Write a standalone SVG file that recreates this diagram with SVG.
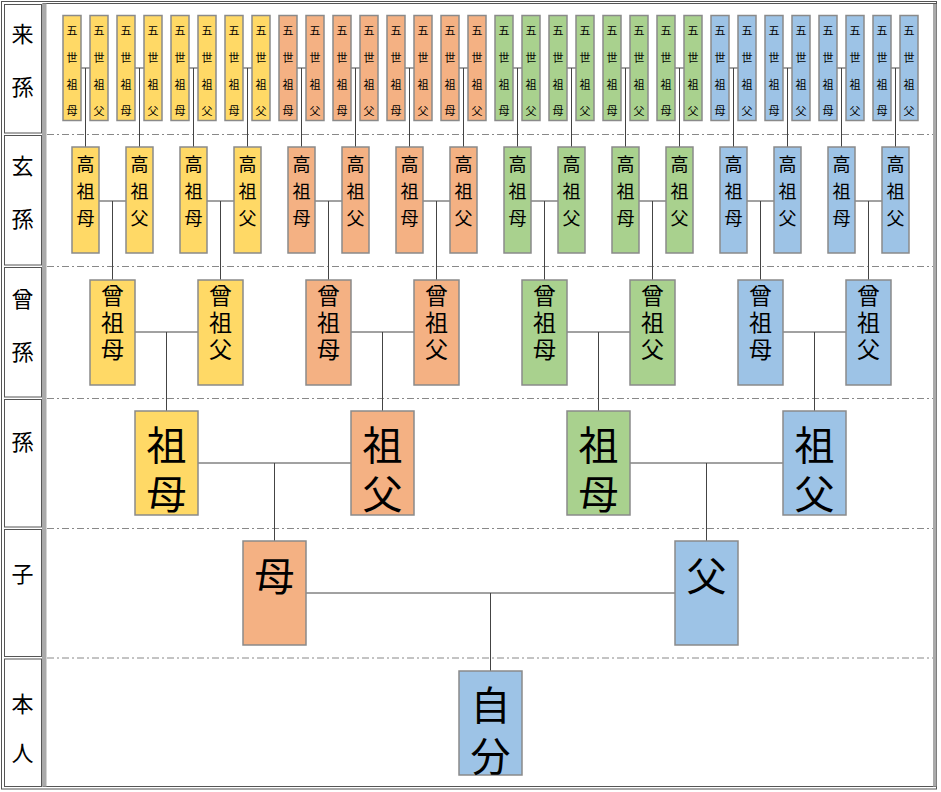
<svg xmlns="http://www.w3.org/2000/svg" width="941" height="792" viewBox="0 0 941 792">
<style>
text{font-family:"Noto Sans CJK JP","Noto Sans CJK SC",sans-serif;text-anchor:middle;dominant-baseline:central;fill:#000}
.n rect{stroke:#8a8a8a;stroke-width:1.5}
.y rect{fill:#FFD966}.o rect{fill:#F4B183}.g rect{fill:#A9D18E}.b rect{fill:#9DC3E6}
.t1{font-size:11px}.t2{font-size:18px}.t3{font-size:23px}.t4{font-size:40px}.lab{font-size:22px}
.cell{fill:#fff;stroke:#555;stroke-width:1}
.dash{stroke:#888;stroke-width:1;stroke-dasharray:7 3 2 3}
.conn{fill:none;stroke:#444;stroke-width:1}
</style>
<rect x="0" y="0" width="941" height="792" fill="#fff"/>
<g id="frame">
<rect x="1.5" y="1.5" width="935" height="787.5" fill="none" stroke="#555"/>
<rect x="43" y="3.5" width="893" height="783" fill="#fff" stroke="#555"/>
<rect x="43" y="3.5" width="3.5" height="783" fill="#aaa"/>
<rect x="933" y="4" width="3.5" height="782.5" fill="#aaa"/>
<rect class="cell" x="4.5" y="4.5" width="37" height="128.5"/>
<rect class="cell" x="4.5" y="135.5" width="37" height="129.5"/>
<rect class="cell" x="4.5" y="267.5" width="37" height="129.5"/>
<rect class="cell" x="4.5" y="399.5" width="37" height="127.5"/>
<rect class="cell" x="4.5" y="529.5" width="37" height="127"/>
<rect class="cell" x="4.5" y="659" width="37" height="127.5"/>
<line class="dash" x1="47" y1="134.5" x2="933" y2="134.5"/>
<line class="dash" x1="47" y1="266.5" x2="933" y2="266.5"/>
<line class="dash" x1="47" y1="398.5" x2="933" y2="398.5"/>
<line class="dash" x1="47" y1="528.5" x2="933" y2="528.5"/>
<line class="dash" x1="47" y1="658" x2="933" y2="658"/>
</g>
<g id="labels">
<text class="lab"><tspan x="22.5" y="32">来</tspan><tspan x="22.5" y="85">孫</tspan></text>
<text class="lab"><tspan x="22.5" y="164">玄</tspan><tspan x="22.5" y="217">孫</tspan></text>
<text class="lab"><tspan x="22.5" y="297">曾</tspan><tspan x="22.5" y="350">孫</tspan></text>
<text class="lab" x="22.5" y="440">孫</text>
<text class="lab" x="22.5" y="572">子</text>
<text class="lab"><tspan x="22.5" y="702">本</tspan><tspan x="22.5" y="751">人</tspan></text>
</g>
<g id="connectors" class="conn">
<path d="M81 68H90M85.5 68V147M135 68H144M139.5 68V147M189 68H198M193.5 68V147M243 68H252M247.5 68V147M297 68H306M301.5 68V147M351 68H360M355.5 68V147M405 68H414M409.5 68V147M459 68H468M463.5 68V147M513 68H522M517.5 68V147M567 68H576M571.5 68V147M621 68H630M625.5 68V147M675 68H684M679.5 68V147M729 68H738M733.5 68V147M783 68H792M787.5 68V147M837 68H846M841.5 68V147M891 68H900M895.5 68V147"/>
<path d="M99 201H126M112.5 201V280M207 201H234M220.5 201V280M315 201H342M328.5 201V280M423 201H450M436.5 201V280M531 201H558M544.5 201V280M639 201H666M652.5 201V280M747 201H774M760.5 201V280M855 201H882M868.5 201V280"/>
<path d="M135 332H198M166.5 332V411M351 332H414M382.5 332V411M567 332H630M598.5 332V411M783 332H846M814.5 332V411"/>
<path d="M198 463H351M274.5 463V541M630 463H783M706.5 463V541"/>
<path d="M306 593H675M490.5 593V671"/>
</g>
<g id="r1">
<g id="r1n0" class="n y"><rect x="63" y="15.5" width="18" height="105"/><text class="t1"><tspan x="72" y="30">五</tspan><tspan x="72" y="57">世</tspan><tspan x="72" y="83.5">祖</tspan><tspan x="72" y="110">母</tspan></text></g>
<g id="r1n1" class="n y"><rect x="90" y="15.5" width="18" height="105"/><text class="t1"><tspan x="99" y="30">五</tspan><tspan x="99" y="57">世</tspan><tspan x="99" y="83.5">祖</tspan><tspan x="99" y="110">父</tspan></text></g>
<g id="r1n2" class="n y"><rect x="117" y="15.5" width="18" height="105"/><text class="t1"><tspan x="126" y="30">五</tspan><tspan x="126" y="57">世</tspan><tspan x="126" y="83.5">祖</tspan><tspan x="126" y="110">母</tspan></text></g>
<g id="r1n3" class="n y"><rect x="144" y="15.5" width="18" height="105"/><text class="t1"><tspan x="153" y="30">五</tspan><tspan x="153" y="57">世</tspan><tspan x="153" y="83.5">祖</tspan><tspan x="153" y="110">父</tspan></text></g>
<g id="r1n4" class="n y"><rect x="171" y="15.5" width="18" height="105"/><text class="t1"><tspan x="180" y="30">五</tspan><tspan x="180" y="57">世</tspan><tspan x="180" y="83.5">祖</tspan><tspan x="180" y="110">母</tspan></text></g>
<g id="r1n5" class="n y"><rect x="198" y="15.5" width="18" height="105"/><text class="t1"><tspan x="207" y="30">五</tspan><tspan x="207" y="57">世</tspan><tspan x="207" y="83.5">祖</tspan><tspan x="207" y="110">父</tspan></text></g>
<g id="r1n6" class="n y"><rect x="225" y="15.5" width="18" height="105"/><text class="t1"><tspan x="234" y="30">五</tspan><tspan x="234" y="57">世</tspan><tspan x="234" y="83.5">祖</tspan><tspan x="234" y="110">母</tspan></text></g>
<g id="r1n7" class="n y"><rect x="252" y="15.5" width="18" height="105"/><text class="t1"><tspan x="261" y="30">五</tspan><tspan x="261" y="57">世</tspan><tspan x="261" y="83.5">祖</tspan><tspan x="261" y="110">父</tspan></text></g>
<g id="r1n8" class="n o"><rect x="279" y="15.5" width="18" height="105"/><text class="t1"><tspan x="288" y="30">五</tspan><tspan x="288" y="57">世</tspan><tspan x="288" y="83.5">祖</tspan><tspan x="288" y="110">母</tspan></text></g>
<g id="r1n9" class="n o"><rect x="306" y="15.5" width="18" height="105"/><text class="t1"><tspan x="315" y="30">五</tspan><tspan x="315" y="57">世</tspan><tspan x="315" y="83.5">祖</tspan><tspan x="315" y="110">父</tspan></text></g>
<g id="r1n10" class="n o"><rect x="333" y="15.5" width="18" height="105"/><text class="t1"><tspan x="342" y="30">五</tspan><tspan x="342" y="57">世</tspan><tspan x="342" y="83.5">祖</tspan><tspan x="342" y="110">母</tspan></text></g>
<g id="r1n11" class="n o"><rect x="360" y="15.5" width="18" height="105"/><text class="t1"><tspan x="369" y="30">五</tspan><tspan x="369" y="57">世</tspan><tspan x="369" y="83.5">祖</tspan><tspan x="369" y="110">父</tspan></text></g>
<g id="r1n12" class="n o"><rect x="387" y="15.5" width="18" height="105"/><text class="t1"><tspan x="396" y="30">五</tspan><tspan x="396" y="57">世</tspan><tspan x="396" y="83.5">祖</tspan><tspan x="396" y="110">母</tspan></text></g>
<g id="r1n13" class="n o"><rect x="414" y="15.5" width="18" height="105"/><text class="t1"><tspan x="423" y="30">五</tspan><tspan x="423" y="57">世</tspan><tspan x="423" y="83.5">祖</tspan><tspan x="423" y="110">父</tspan></text></g>
<g id="r1n14" class="n o"><rect x="441" y="15.5" width="18" height="105"/><text class="t1"><tspan x="450" y="30">五</tspan><tspan x="450" y="57">世</tspan><tspan x="450" y="83.5">祖</tspan><tspan x="450" y="110">母</tspan></text></g>
<g id="r1n15" class="n o"><rect x="468" y="15.5" width="18" height="105"/><text class="t1"><tspan x="477" y="30">五</tspan><tspan x="477" y="57">世</tspan><tspan x="477" y="83.5">祖</tspan><tspan x="477" y="110">父</tspan></text></g>
<g id="r1n16" class="n g"><rect x="495" y="15.5" width="18" height="105"/><text class="t1"><tspan x="504" y="30">五</tspan><tspan x="504" y="57">世</tspan><tspan x="504" y="83.5">祖</tspan><tspan x="504" y="110">母</tspan></text></g>
<g id="r1n17" class="n g"><rect x="522" y="15.5" width="18" height="105"/><text class="t1"><tspan x="531" y="30">五</tspan><tspan x="531" y="57">世</tspan><tspan x="531" y="83.5">祖</tspan><tspan x="531" y="110">父</tspan></text></g>
<g id="r1n18" class="n g"><rect x="549" y="15.5" width="18" height="105"/><text class="t1"><tspan x="558" y="30">五</tspan><tspan x="558" y="57">世</tspan><tspan x="558" y="83.5">祖</tspan><tspan x="558" y="110">母</tspan></text></g>
<g id="r1n19" class="n g"><rect x="576" y="15.5" width="18" height="105"/><text class="t1"><tspan x="585" y="30">五</tspan><tspan x="585" y="57">世</tspan><tspan x="585" y="83.5">祖</tspan><tspan x="585" y="110">父</tspan></text></g>
<g id="r1n20" class="n g"><rect x="603" y="15.5" width="18" height="105"/><text class="t1"><tspan x="612" y="30">五</tspan><tspan x="612" y="57">世</tspan><tspan x="612" y="83.5">祖</tspan><tspan x="612" y="110">母</tspan></text></g>
<g id="r1n21" class="n g"><rect x="630" y="15.5" width="18" height="105"/><text class="t1"><tspan x="639" y="30">五</tspan><tspan x="639" y="57">世</tspan><tspan x="639" y="83.5">祖</tspan><tspan x="639" y="110">父</tspan></text></g>
<g id="r1n22" class="n g"><rect x="657" y="15.5" width="18" height="105"/><text class="t1"><tspan x="666" y="30">五</tspan><tspan x="666" y="57">世</tspan><tspan x="666" y="83.5">祖</tspan><tspan x="666" y="110">母</tspan></text></g>
<g id="r1n23" class="n g"><rect x="684" y="15.5" width="18" height="105"/><text class="t1"><tspan x="693" y="30">五</tspan><tspan x="693" y="57">世</tspan><tspan x="693" y="83.5">祖</tspan><tspan x="693" y="110">父</tspan></text></g>
<g id="r1n24" class="n b"><rect x="711" y="15.5" width="18" height="105"/><text class="t1"><tspan x="720" y="30">五</tspan><tspan x="720" y="57">世</tspan><tspan x="720" y="83.5">祖</tspan><tspan x="720" y="110">母</tspan></text></g>
<g id="r1n25" class="n b"><rect x="738" y="15.5" width="18" height="105"/><text class="t1"><tspan x="747" y="30">五</tspan><tspan x="747" y="57">世</tspan><tspan x="747" y="83.5">祖</tspan><tspan x="747" y="110">父</tspan></text></g>
<g id="r1n26" class="n b"><rect x="765" y="15.5" width="18" height="105"/><text class="t1"><tspan x="774" y="30">五</tspan><tspan x="774" y="57">世</tspan><tspan x="774" y="83.5">祖</tspan><tspan x="774" y="110">母</tspan></text></g>
<g id="r1n27" class="n b"><rect x="792" y="15.5" width="18" height="105"/><text class="t1"><tspan x="801" y="30">五</tspan><tspan x="801" y="57">世</tspan><tspan x="801" y="83.5">祖</tspan><tspan x="801" y="110">父</tspan></text></g>
<g id="r1n28" class="n b"><rect x="819" y="15.5" width="18" height="105"/><text class="t1"><tspan x="828" y="30">五</tspan><tspan x="828" y="57">世</tspan><tspan x="828" y="83.5">祖</tspan><tspan x="828" y="110">母</tspan></text></g>
<g id="r1n29" class="n b"><rect x="846" y="15.5" width="18" height="105"/><text class="t1"><tspan x="855" y="30">五</tspan><tspan x="855" y="57">世</tspan><tspan x="855" y="83.5">祖</tspan><tspan x="855" y="110">父</tspan></text></g>
<g id="r1n30" class="n b"><rect x="873" y="15.5" width="18" height="105"/><text class="t1"><tspan x="882" y="30">五</tspan><tspan x="882" y="57">世</tspan><tspan x="882" y="83.5">祖</tspan><tspan x="882" y="110">母</tspan></text></g>
<g id="r1n31" class="n b"><rect x="900" y="15.5" width="18" height="105"/><text class="t1"><tspan x="909" y="30">五</tspan><tspan x="909" y="57">世</tspan><tspan x="909" y="83.5">祖</tspan><tspan x="909" y="110">父</tspan></text></g>
</g>
<g id="r2">
<g id="r2n0" class="n y"><rect x="72" y="147" width="27" height="106"/><text class="t2"><tspan x="85.5" y="163">高</tspan><tspan x="85.5" y="190">祖</tspan><tspan x="85.5" y="217">母</tspan></text></g>
<g id="r2n1" class="n y"><rect x="126" y="147" width="27" height="106"/><text class="t2"><tspan x="139.5" y="163">高</tspan><tspan x="139.5" y="190">祖</tspan><tspan x="139.5" y="217">父</tspan></text></g>
<g id="r2n2" class="n y"><rect x="180" y="147" width="27" height="106"/><text class="t2"><tspan x="193.5" y="163">高</tspan><tspan x="193.5" y="190">祖</tspan><tspan x="193.5" y="217">母</tspan></text></g>
<g id="r2n3" class="n y"><rect x="234" y="147" width="27" height="106"/><text class="t2"><tspan x="247.5" y="163">高</tspan><tspan x="247.5" y="190">祖</tspan><tspan x="247.5" y="217">父</tspan></text></g>
<g id="r2n4" class="n o"><rect x="288" y="147" width="27" height="106"/><text class="t2"><tspan x="301.5" y="163">高</tspan><tspan x="301.5" y="190">祖</tspan><tspan x="301.5" y="217">母</tspan></text></g>
<g id="r2n5" class="n o"><rect x="342" y="147" width="27" height="106"/><text class="t2"><tspan x="355.5" y="163">高</tspan><tspan x="355.5" y="190">祖</tspan><tspan x="355.5" y="217">父</tspan></text></g>
<g id="r2n6" class="n o"><rect x="396" y="147" width="27" height="106"/><text class="t2"><tspan x="409.5" y="163">高</tspan><tspan x="409.5" y="190">祖</tspan><tspan x="409.5" y="217">母</tspan></text></g>
<g id="r2n7" class="n o"><rect x="450" y="147" width="27" height="106"/><text class="t2"><tspan x="463.5" y="163">高</tspan><tspan x="463.5" y="190">祖</tspan><tspan x="463.5" y="217">父</tspan></text></g>
<g id="r2n8" class="n g"><rect x="504" y="147" width="27" height="106"/><text class="t2"><tspan x="517.5" y="163">高</tspan><tspan x="517.5" y="190">祖</tspan><tspan x="517.5" y="217">母</tspan></text></g>
<g id="r2n9" class="n g"><rect x="558" y="147" width="27" height="106"/><text class="t2"><tspan x="571.5" y="163">高</tspan><tspan x="571.5" y="190">祖</tspan><tspan x="571.5" y="217">父</tspan></text></g>
<g id="r2n10" class="n g"><rect x="612" y="147" width="27" height="106"/><text class="t2"><tspan x="625.5" y="163">高</tspan><tspan x="625.5" y="190">祖</tspan><tspan x="625.5" y="217">母</tspan></text></g>
<g id="r2n11" class="n g"><rect x="666" y="147" width="27" height="106"/><text class="t2"><tspan x="679.5" y="163">高</tspan><tspan x="679.5" y="190">祖</tspan><tspan x="679.5" y="217">父</tspan></text></g>
<g id="r2n12" class="n b"><rect x="720" y="147" width="27" height="106"/><text class="t2"><tspan x="733.5" y="163">高</tspan><tspan x="733.5" y="190">祖</tspan><tspan x="733.5" y="217">母</tspan></text></g>
<g id="r2n13" class="n b"><rect x="774" y="147" width="27" height="106"/><text class="t2"><tspan x="787.5" y="163">高</tspan><tspan x="787.5" y="190">祖</tspan><tspan x="787.5" y="217">父</tspan></text></g>
<g id="r2n14" class="n b"><rect x="828" y="147" width="27" height="106"/><text class="t2"><tspan x="841.5" y="163">高</tspan><tspan x="841.5" y="190">祖</tspan><tspan x="841.5" y="217">母</tspan></text></g>
<g id="r2n15" class="n b"><rect x="882" y="147" width="27" height="106"/><text class="t2"><tspan x="895.5" y="163">高</tspan><tspan x="895.5" y="190">祖</tspan><tspan x="895.5" y="217">父</tspan></text></g>
</g>
<g id="r3">
<g id="r3n0" class="n y"><rect x="90" y="280" width="45" height="105"/><text class="t3"><tspan x="112.5" y="294">曾</tspan><tspan x="112.5" y="321">祖</tspan><tspan x="112.5" y="348">母</tspan></text></g>
<g id="r3n1" class="n y"><rect x="198" y="280" width="45" height="105"/><text class="t3"><tspan x="220.5" y="294">曾</tspan><tspan x="220.5" y="321">祖</tspan><tspan x="220.5" y="348">父</tspan></text></g>
<g id="r3n2" class="n o"><rect x="306" y="280" width="45" height="105"/><text class="t3"><tspan x="328.5" y="294">曾</tspan><tspan x="328.5" y="321">祖</tspan><tspan x="328.5" y="348">母</tspan></text></g>
<g id="r3n3" class="n o"><rect x="414" y="280" width="45" height="105"/><text class="t3"><tspan x="436.5" y="294">曾</tspan><tspan x="436.5" y="321">祖</tspan><tspan x="436.5" y="348">父</tspan></text></g>
<g id="r3n4" class="n g"><rect x="522" y="280" width="45" height="105"/><text class="t3"><tspan x="544.5" y="294">曾</tspan><tspan x="544.5" y="321">祖</tspan><tspan x="544.5" y="348">母</tspan></text></g>
<g id="r3n5" class="n g"><rect x="630" y="280" width="45" height="105"/><text class="t3"><tspan x="652.5" y="294">曾</tspan><tspan x="652.5" y="321">祖</tspan><tspan x="652.5" y="348">父</tspan></text></g>
<g id="r3n6" class="n b"><rect x="738" y="280" width="45" height="105"/><text class="t3"><tspan x="760.5" y="294">曾</tspan><tspan x="760.5" y="321">祖</tspan><tspan x="760.5" y="348">母</tspan></text></g>
<g id="r3n7" class="n b"><rect x="846" y="280" width="45" height="105"/><text class="t3"><tspan x="868.5" y="294">曾</tspan><tspan x="868.5" y="321">祖</tspan><tspan x="868.5" y="348">父</tspan></text></g>
</g>
<g id="r4">
<g id="r4n0" class="n y"><rect x="135" y="411" width="63" height="104"/><text class="t4"><tspan x="166.5" y="443">祖</tspan><tspan x="166.5" y="492">母</tspan></text></g>
<g id="r4n1" class="n o"><rect x="351" y="411" width="63" height="104"/><text class="t4"><tspan x="382.5" y="443">祖</tspan><tspan x="382.5" y="492">父</tspan></text></g>
<g id="r4n2" class="n g"><rect x="567" y="411" width="63" height="104"/><text class="t4"><tspan x="598.5" y="443">祖</tspan><tspan x="598.5" y="492">母</tspan></text></g>
<g id="r4n3" class="n b"><rect x="783" y="411" width="63" height="104"/><text class="t4"><tspan x="814.5" y="443">祖</tspan><tspan x="814.5" y="492">父</tspan></text></g>
</g>
<g id="r5">
<g id="mother" class="n o"><rect x="243" y="541" width="63" height="104"/><text class="t4" x="274.5" y="574">母</text></g>
<g id="father" class="n b"><rect x="675" y="541" width="63" height="104"/><text class="t4" x="706.5" y="574">父</text></g>
</g>
<g id="self" class="n b"><rect x="459" y="671" width="63" height="104"/><text class="t4"><tspan x="490.5" y="703">自</tspan><tspan x="490.5" y="754">分</tspan></text></g>
</svg>
